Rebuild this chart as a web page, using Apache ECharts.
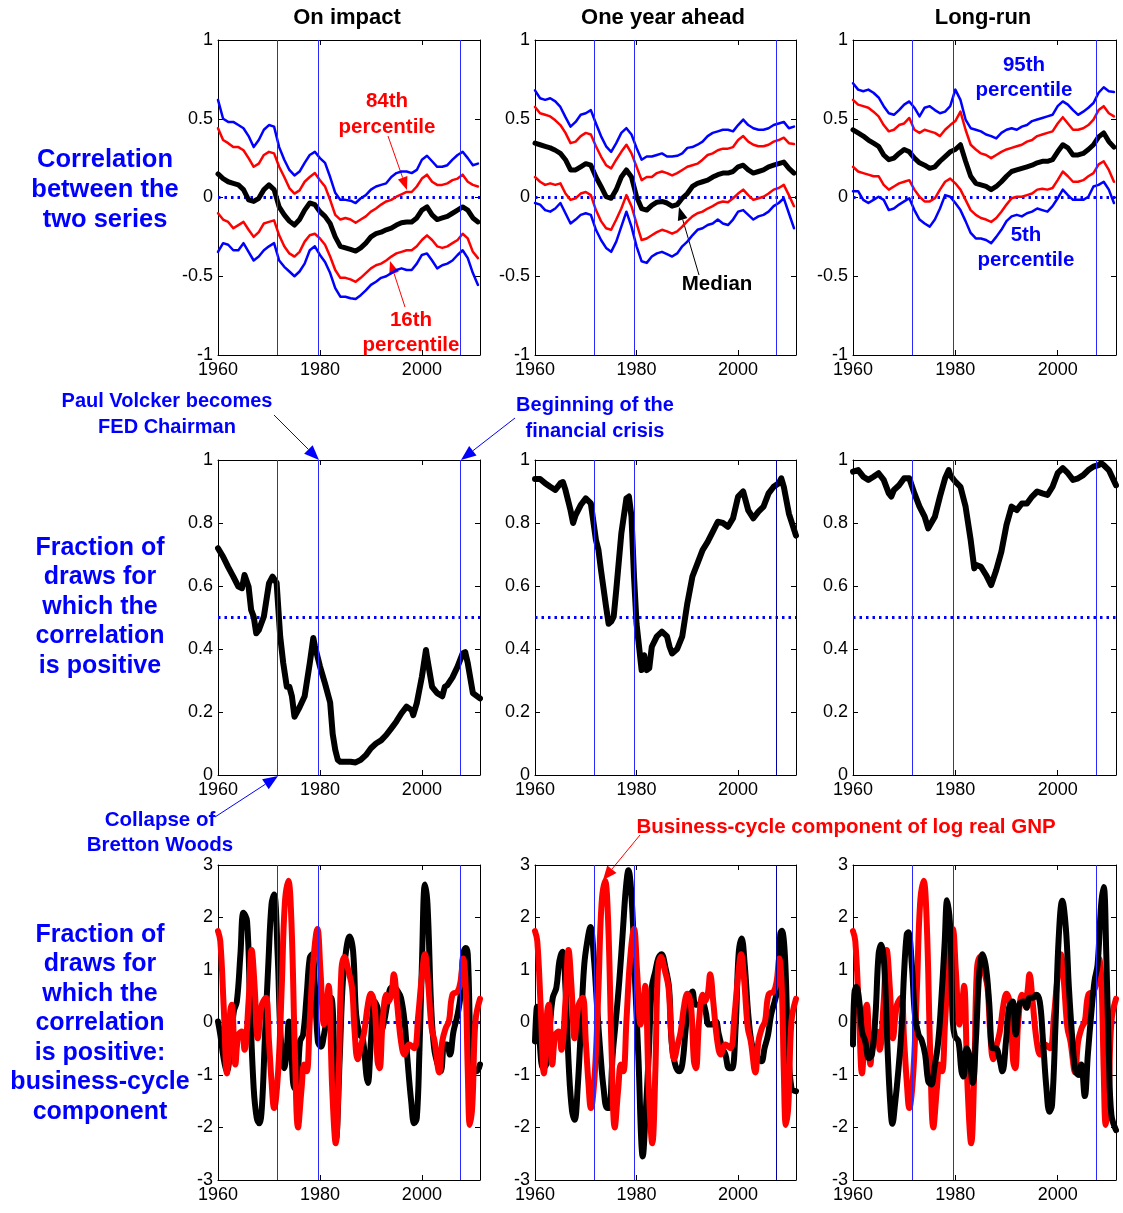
<!DOCTYPE html>
<html>
<head>
<meta charset="utf-8">
<script src="https://cdn.jsdelivr.net/npm/echarts@6/dist/echarts.min.js"></script>
<style>
html, body { margin: 0; padding: 0; background: #fff; }
#main { width: 1123px; height: 1213px; }
</style>
</head>
<body>
<div id="main"></div>
<script>
// years for the rolling correlation panels
var years = [1960,1961,1962,1963,1964,1965,1966,1967,1968,1969,
	1970,1971,1972,1973,1974,1975,1976,1977,1978,1979,
	1980,1981,1982,1983,1984,1985,1986,1987,1988,1989,
	1990,1991,1992,1993,1994,1995,1996,1997,1998,1999,
	2000,2001,2002,2003,2004,2005,2006,2007,2008,2009,
	2010,2011];

// vertical event lines: Bretton Woods, Volcker, financial crisis
var events = [1971.6, 1979.6, 2007.6];

// top row: correlation, on impact
var impP95 = [0.62,0.50,0.48,0.48,0.46,0.44,0.39,0.32,0.365,0.43,
	0.46,0.45,0.32,0.24,0.175,0.14,0.165,0.22,0.27,0.29,
	0.25,0.22,0.13,0.03,-0.015,-0.015,-0.02,-0.035,-0.005,0.015,
	0.05,0.07,0.08,0.09,0.13,0.155,0.165,0.165,0.155,0.175,
	0.24,0.265,0.23,0.195,0.195,0.205,0.24,0.27,0.29,0.25,
	0.205,0.215];
var impP84 = [0.44,0.365,0.345,0.32,0.32,0.30,0.25,0.195,0.215,0.27,
	0.29,0.28,0.195,0.13,0.06,0.025,0.045,0.10,0.13,0.155,
	0.11,0.07,-0.015,-0.11,-0.14,-0.13,-0.14,-0.16,-0.14,-0.12,
	-0.09,-0.07,-0.045,-0.025,-0.015,0.005,0.02,0.035,0.035,0.07,
	0.12,0.145,0.10,0.08,0.08,0.09,0.11,0.12,0.145,0.10,
	0.08,0.07];
var impMed = [0.15,0.12,0.10,0.09,0.08,0.05,-0.015,-0.025,-0.005,0.05,
	0.08,0.05,-0.06,-0.11,-0.15,-0.175,-0.14,-0.08,-0.035,-0.045,
	-0.09,-0.12,-0.165,-0.25,-0.31,-0.32,-0.33,-0.34,-0.32,-0.29,
	-0.25,-0.23,-0.22,-0.205,-0.195,-0.175,-0.16,-0.155,-0.155,-0.13,
	-0.08,-0.06,-0.11,-0.14,-0.13,-0.12,-0.10,-0.08,-0.06,-0.08,
	-0.13,-0.155];
var impP16 = [-0.10,-0.14,-0.155,-0.195,-0.175,-0.155,-0.205,-0.25,-0.22,-0.165,
	-0.155,-0.145,-0.24,-0.31,-0.355,-0.375,-0.345,-0.28,-0.24,-0.23,
	-0.26,-0.30,-0.375,-0.46,-0.51,-0.51,-0.52,-0.535,-0.51,-0.48,
	-0.45,-0.43,-0.42,-0.40,-0.375,-0.355,-0.345,-0.335,-0.335,-0.31,
	-0.27,-0.24,-0.27,-0.31,-0.32,-0.31,-0.29,-0.27,-0.23,-0.26,
	-0.345,-0.385];
var impP5 = [-0.345,-0.29,-0.30,-0.335,-0.335,-0.29,-0.345,-0.40,-0.375,-0.335,
	-0.31,-0.29,-0.40,-0.44,-0.47,-0.50,-0.47,-0.42,-0.335,-0.31,
	-0.365,-0.41,-0.48,-0.575,-0.63,-0.63,-0.64,-0.645,-0.62,-0.59,
	-0.555,-0.535,-0.51,-0.50,-0.48,-0.46,-0.45,-0.46,-0.46,-0.42,
	-0.365,-0.355,-0.40,-0.45,-0.43,-0.42,-0.40,-0.365,-0.335,-0.385,
	-0.48,-0.555];

// top row: correlation, one year ahead
var aheadP95 = [0.68,0.63,0.62,0.63,0.61,0.575,0.51,0.45,0.48,0.525,
	0.535,0.555,0.47,0.39,0.325,0.29,0.345,0.41,0.44,0.40,
	0.315,0.24,0.26,0.26,0.27,0.28,0.26,0.26,0.265,0.28,
	0.315,0.32,0.335,0.355,0.39,0.41,0.42,0.43,0.43,0.42,
	0.46,0.495,0.46,0.44,0.43,0.43,0.44,0.46,0.47,0.48,
	0.44,0.45];
var aheadP84 = [0.575,0.535,0.525,0.515,0.49,0.46,0.41,0.345,0.355,0.39,
	0.41,0.40,0.325,0.26,0.205,0.185,0.24,0.29,0.335,0.28,
	0.195,0.11,0.13,0.13,0.155,0.165,0.155,0.14,0.155,0.175,
	0.195,0.205,0.215,0.24,0.27,0.28,0.30,0.31,0.31,0.32,
	0.365,0.39,0.355,0.335,0.325,0.325,0.335,0.355,0.365,0.38,
	0.345,0.34];
var aheadMed = [0.345,0.335,0.325,0.315,0.30,0.28,0.24,0.175,0.175,0.195,
	0.215,0.205,0.13,0.07,0.005,-0.005,0.05,0.13,0.175,0.13,
	0.005,-0.07,-0.08,-0.05,-0.03,-0.025,-0.035,-0.055,-0.045,-0.005,
	0.025,0.07,0.09,0.10,0.11,0.13,0.145,0.155,0.155,0.165,
	0.195,0.205,0.175,0.155,0.165,0.175,0.195,0.205,0.215,0.225,
	0.185,0.155];
var aheadP16 = [0.13,0.10,0.08,0.09,0.08,0.09,0.025,-0.015,-0.005,0.025,
	0.035,0.015,-0.08,-0.15,-0.195,-0.205,-0.14,-0.07,0.015,-0.055,
	-0.165,-0.27,-0.26,-0.24,-0.22,-0.205,-0.215,-0.23,-0.215,-0.185,
	-0.15,-0.12,-0.10,-0.09,-0.07,-0.055,-0.035,-0.025,-0.03,-0.005,
	0.025,0.05,0.015,-0.015,-0.005,0.005,0.025,0.05,0.06,0.08,
	0.015,-0.055];
var aheadP5 = [-0.035,-0.045,-0.08,-0.09,-0.07,-0.035,-0.10,-0.165,-0.14,-0.11,
	-0.10,-0.11,-0.205,-0.27,-0.32,-0.345,-0.28,-0.185,-0.09,-0.185,
	-0.31,-0.405,-0.415,-0.375,-0.355,-0.345,-0.36,-0.375,-0.355,-0.31,
	-0.28,-0.24,-0.205,-0.195,-0.175,-0.165,-0.14,-0.165,-0.175,-0.14,
	-0.09,-0.08,-0.11,-0.14,-0.12,-0.11,-0.09,-0.055,-0.035,-0.005,
	-0.10,-0.195];

// top row: correlation, long-run
var longP95 = [0.725,0.685,0.675,0.685,0.665,0.635,0.58,0.535,0.525,0.555,
	0.59,0.61,0.57,0.515,0.57,0.58,0.555,0.535,0.545,0.58,
	0.685,0.62,0.495,0.44,0.43,0.42,0.40,0.39,0.375,0.41,
	0.43,0.44,0.43,0.45,0.46,0.485,0.495,0.505,0.515,0.525,
	0.58,0.61,0.59,0.555,0.525,0.545,0.57,0.60,0.665,0.70,
	0.675,0.67];
var longP84 = [0.62,0.59,0.58,0.57,0.545,0.515,0.46,0.42,0.43,0.46,
	0.47,0.505,0.43,0.41,0.43,0.42,0.41,0.39,0.43,0.46,
	0.485,0.545,0.43,0.335,0.305,0.28,0.27,0.25,0.27,0.29,
	0.305,0.315,0.325,0.335,0.355,0.365,0.39,0.40,0.41,0.42,
	0.47,0.51,0.47,0.43,0.43,0.44,0.46,0.495,0.555,0.58,
	0.535,0.515];
var longMed = [0.43,0.41,0.39,0.365,0.345,0.325,0.27,0.24,0.25,0.28,
	0.305,0.29,0.25,0.22,0.205,0.185,0.195,0.23,0.26,0.29,
	0.305,0.335,0.23,0.135,0.09,0.08,0.07,0.05,0.07,0.10,
	0.135,0.165,0.175,0.185,0.195,0.205,0.22,0.23,0.23,0.24,
	0.29,0.335,0.315,0.27,0.27,0.28,0.305,0.335,0.385,0.41,
	0.355,0.32];
var longP16 = [0.195,0.165,0.155,0.145,0.135,0.135,0.08,0.05,0.07,0.09,
	0.10,0.11,0.05,0.005,-0.025,-0.025,-0.005,0.05,0.10,0.12,
	0.09,0.05,-0.015,-0.08,-0.11,-0.13,-0.14,-0.155,-0.13,-0.09,
	-0.045,-0.005,0.005,0.005,0.015,0.025,0.05,0.055,0.05,0.06,
	0.11,0.165,0.135,0.10,0.10,0.11,0.135,0.155,0.21,0.23,
	0.175,0.10];
var longP5 = [0.04,0.04,-0.015,-0.035,-0.015,0.005,-0.015,-0.08,-0.07,-0.045,
	-0.025,-0.005,-0.08,-0.14,-0.165,-0.185,-0.14,-0.07,0.015,0.005,
	-0.035,-0.08,-0.15,-0.225,-0.26,-0.26,-0.27,-0.29,-0.25,-0.205,
	-0.15,-0.12,-0.11,-0.12,-0.10,-0.09,-0.07,-0.08,-0.09,-0.055,
	-0.005,0.05,0.015,-0.015,-0.015,-0.015,0.005,0.07,0.08,0.10,
	0.05,-0.035];

// middle row: fraction of draws with positive correlation
var fracImpYears = [1960,1961,1962,1963,1964,1964.7,1965.2,1966,1966.5,1967,1967.5,1968,1969,1970,1970.7,1971.5,
	1972.2,1972.8,1973.5,1974,1974.5,1975,1976,1977,1978,1978.7,1979,1980,1981,1982,1982.5,1983,1983.5,
	1984,1985,1986,1987,1988,1989,1990,1991,1992,1993,1994,1995,1996,1997,1998,1998.3,1999,2000,2000.8,
	2001,2002,2003,2004,2004.5,2005,2006,2007,2008,2008.5,2009,2010,2011.4];
var fracImp = [0.72,0.693,0.66,0.63,0.598,0.593,0.635,0.598,0.524,0.503,0.45,0.46,0.503,0.608,0.63,0.61,
	0.44,0.355,0.28,0.28,0.25,0.185,0.215,0.25,0.355,0.435,0.41,0.345,0.29,0.23,0.13,0.08,0.048,
	0.042,0.042,0.042,0.04,0.048,0.063,0.085,0.10,0.11,0.127,0.148,0.17,0.196,0.217,0.206,0.19,0.228,0.312,0.397,
	0.375,0.28,0.26,0.25,0.28,0.285,0.31,0.344,0.386,0.39,0.355,0.26,0.243];

var fracAheadYears = [1960,1961,1962,1963,1964,1965,1965.5,1966,1967,1967.5,1968,1969,1970,1971,1972,1972.5,
	1973,1974,1974.5,1975,1975.5,1976,1977,1978,1978.5,1979,1979.5,1980,1981,1981.5,1982,1982.5,1983,
	1984,1985,1986,1986.5,1987,1988,1989,1990,1991,1992,1993,1994,1995,1996,1997,1998,1999,2000,2001,
	2002,2003,2004,2005,2006,2007,2008,2008.5,2009,2010,2011.4];
var fracAhead = [0.94,0.94,0.926,0.915,0.905,0.926,0.93,0.905,0.84,0.80,0.825,0.857,0.878,0.862,0.746,0.714,
	0.65,0.534,0.48,0.487,0.503,0.587,0.767,0.878,0.884,0.82,0.63,0.48,0.333,0.38,0.333,0.339,0.407,
	0.44,0.455,0.44,0.407,0.386,0.40,0.44,0.545,0.63,0.672,0.714,0.74,0.772,0.804,0.80,0.788,0.815,0.884,0.90,
	0.84,0.815,0.836,0.852,0.894,0.915,0.926,0.942,0.915,0.83,0.76];

var fracLongYears = [1960,1961,1962,1963,1964,1965,1966,1967,1967.5,1968,1969,1970,1971,1972,1973,1974,
	1974.7,1975,1976,1977,1978,1978.7,1979,1980,1981,1982,1983,1983.7,1984,1985,1986,1987,1987.2,
	1988,1989,1990,1991,1992,1993,1994,1995,1996,1997,1998,1999,2000,2001,2002,2003,2004,2005,2006,
	2007,2008,2008.5,2009,2010,2011.4];
var fracLong = [0.963,0.968,0.947,0.937,0.947,0.958,0.937,0.894,0.884,0.905,0.92,0.942,0.942,0.894,0.852,0.82,
	0.783,0.788,0.82,0.884,0.942,0.968,0.952,0.931,0.915,0.852,0.746,0.656,0.667,0.661,0.635,0.603,0.598,
	0.651,0.709,0.794,0.852,0.841,0.862,0.862,0.884,0.90,0.894,0.889,0.915,0.958,0.974,0.958,0.937,0.942,0.952,0.968,
	0.979,0.984,0.99,0.984,0.968,0.92];

// bottom row: business-cycle component of log real GNP (red, same in every panel)
var gnpYears = [1960,1960.45,1961.1,1961.75,1962.4,1962.7,1963.4,1964.0,1964.7,1965.2,1966.0,1966.6,1967.2,1967.8,
	1968.6,1969.4,1970.0,1970.5,1971.0,1971.8,1972.5,1973.1,1973.8,1974.4,1975.1,1975.7,1976.4,1976.9,
	1977.4,1978.0,1978.7,1979.5,1980.1,1980.8,1981.3,1981.7,1982.4,1983.1,1983.7,1984.2,1984.8,1985.6,
	1986.3,1986.8,1987.4,1988.1,1988.7,1989.4,1990.0,1990.7,1991.3,1991.7,1992.3,1993.0,1993.4,1994.0,
	1994.5,1995.1,1995.9,1996.6,1997.5,1998.5,1999.3,1999.9,2000.6,2001.2,2001.9,2002.5,2003.4,2004.0,
	2004.7,2005.3,2006.0,2007.0,2007.6,2008.1,2008.6,2009.0,2009.4,2009.9,2010.5,2011.4];
var gnpVals = [1.74,1.55,0.34,-0.97,0.21,0.34,-0.8,-0.23,-0.17,-0.52,0.40,1.38,0.66,-0.3,
	0.34,0.47,-0.36,-1.12,-1.63,-0.93,0.66,2.25,2.7,1.93,-0.61,-2.0,-1.25,-0.80,
	-0.93,0.02,1.17,1.78,0.98,-0.04,0.34,0.7,-1.25,-2.3,-0.93,0.98,1.25,0.98,
	0.66,-0.17,-0.7,-0.42,-0.17,0.34,0.55,0.34,-0.74,-0.87,0.02,0.53,0.40,0.53,
	0.92,0.40,-0.36,-0.61,-0.42,-0.49,0.15,0.79,1.3,0.79,-0.10,-0.36,-0.95,-0.36,
	-0.10,0.02,0.53,0.59,0.79,1.22,0.66,-0.93,-1.95,-1.57,0.02,0.45];

// bottom row: business-cycle component of the correlation (black), on impact
var bcImpYears = [1960,1960.45,1961.1,1961.75,1962.4,1963.1,1963.7,1964.4,1965.0,1965.7,1966.3,1967.0,1967.6,
	1968.1,1968.6,1969.2,1969.9,1970.5,1971.0,1971.7,1972.3,1973.0,1973.5,1973.9,1974.4,1975.0,1975.4,
	1976.1,1976.7,1977.4,1978.0,1978.5,1979.0,1979.6,1980.2,1980.8,1981.5,1982.2,1982.8,1983.2,1983.9,
	1984.5,1985.2,1985.8,1986.5,1987.1,1987.8,1988.4,1989.1,1989.4,1990.0,1990.7,1991.3,1992.0,1992.6,
	1993.3,1994.0,1994.6,1995.3,1995.9,1996.6,1997.2,1997.9,1998.5,1999.0,1999.5,2000.0,2000.6,2001.1,
	2001.8,2002.4,2003.1,2003.7,2004.4,2004.9,2005.5,2006.2,2007.0,2007.6,2008.1,2008.6,2009.0,2009.6,
	2010.1,2010.7,2011.4];
var bcImp = [0.02,-0.23,-0.68,-0.93,-0.49,0.21,0.40,1.30,2.09,1.93,0.34,-1.25,-1.82,
	-1.92,-1.63,-0.30,1.17,2.25,2.44,1.30,-0.30,-0.87,-0.49,0.02,-0.61,-1.25,-1.25,
	-0.36,-0.23,0.53,1.23,1.30,0.72,-0.36,-0.46,-0.23,0.15,0.47,-0.61,-2.2,-0.61,
	0.79,1.42,1.64,1.36,0.15,-0.23,-0.30,-1.0,-1.15,-0.36,0.40,0.28,-0.17,0.02,
	0.40,0.66,0.66,0.59,0.47,0.02,-0.74,-1.50,-1.92,-1.82,-0.61,1.10,2.63,2.25,
	0.34,-0.49,-0.80,-0.93,-0.42,-0.42,-0.61,-0.17,0.15,0.53,1.30,1.42,1.30,-0.61,
	-0.93,-0.93,-0.80];

// bottom row: one year ahead
var bcAheadYears = [1960,1960.4,1960.9,1961.6,1962.2,1962.9,1963.5,1964.2,1964.8,1965.4,1966.0,1966.7,1967.3,
	1967.8,1968.4,1969.1,1969.7,1970.4,1970.9,1971.6,1972.2,1972.9,1973.5,1974.2,1974.6,1975.3,1975.9,
	1976.6,1977.3,1977.9,1978.4,1979.1,1979.7,1980.4,1980.9,1981.2,1981.7,1982.4,1983.0,1983.7,1984.3,
	1984.9,1985.7,1986.4,1986.9,1987.6,1988.4,1989.0,1989.7,1990.3,1991.0,1991.6,1992.3,1992.9,1993.6,
	1994.2,1994.9,1995.6,1996.2,1996.9,1997.5,1998.2,1998.8,1999.5,2000.1,2000.7,2001.3,2002.0,2002.6,
	2003.3,2003.9,2004.6,2005.2,2005.9,2006.5,2007.2,2007.8,2008.3,2008.6,2009.2,2009.8,2010.5,2011.4];
var bcAhead = [-0.36,0.30,-0.36,-0.87,-0.80,-0.10,0.47,0.66,1.17,1.35,0.66,-0.93,-1.69,
	-1.85,-1.25,0.02,1.10,1.61,1.82,1.23,0.34,-0.61,-1.25,-1.63,-1.63,-0.61,0.02,
	0.79,1.74,2.56,2.9,2.25,0.79,-0.74,-2.2,-2.55,-1.89,-0.61,0.66,0.98,1.23,
	1.30,1.04,0.66,-0.36,-0.80,-0.93,-0.80,-0.10,0.40,0.59,0.34,0.34,0.40,0.21,
	-0.04,-0.04,0.02,-0.23,-0.49,-0.61,-0.87,-0.87,-0.10,1.30,1.60,1.10,0.15,-0.36,
	-0.61,-0.68,-0.74,-0.49,-0.23,0.15,0.40,0.66,1.68,1.75,1.30,-0.30,-1.25,-1.31];

// bottom row: long-run
var bcLongYears = [1960,1960.25,1960.65,1961.3,1961.75,1962.4,1963.1,1963.7,1964.4,1965.0,1965.5,1966.1,1966.8,
	1967.3,1967.7,1968.2,1968.9,1969.5,1970.0,1970.5,1970.8,1971.5,1972.1,1972.8,1973.4,1974.1,1974.7,
	1975.3,1975.9,1976.6,1977.2,1977.9,1978.4,1979.0,1979.5,1979.9,1980.6,1981.2,1981.6,1982.2,1982.7,
	1983.4,1984.0,1984.7,1985.3,1986.0,1986.6,1987.3,1987.9,1988.6,1989.2,1989.9,1990.5,1991.2,1991.8,
	1992.5,1993.3,1993.9,1994.5,1995.2,1995.8,1996.5,1997.1,1997.8,1998.4,1998.9,1999.6,2000.2,2000.9,
	2001.6,2002.2,2002.9,2003.5,2004.2,2004.6,2005.3,2005.9,2006.6,2007.2,2007.8,2008.5,2009.0,2009.5,
	2010.0,2010.5,2011.4];
var bcLong = [-0.42,0.53,0.68,0.34,-0.17,-0.36,-0.68,-0.61,0.15,1.30,1.48,1.10,-0.61,
	-1.57,-1.93,-1.57,-0.87,-0.10,0.98,1.68,1.72,1.10,0.15,-0.23,-0.33,-0.61,-1.12,
	-1.18,-0.87,-0.42,0.34,1.49,2.33,1.80,0.02,-0.26,-0.36,-0.93,-1.03,-0.49,-0.61,
	-1.15,-0.36,0.98,1.30,1.04,0.40,-0.49,-0.49,-0.68,-0.93,-0.36,0.28,0.40,-0.23,
	0.34,0.40,0.28,0.47,0.47,0.53,0.40,-0.30,-1.25,-1.70,-1.57,0.02,1.61,2.32,
	1.80,0.66,-0.36,-0.93,-1.00,-0.80,-1.40,-0.61,0.21,0.79,1.10,2.25,2.58,1.30,
	-0.61,-1.76,-2.05];

function zip(xs, ys) {
	var out = [];
	for (var i = 0; i < xs.length; i++) out.push([xs[i], ys[i]]);
	return out;
}

var FONT = '"Liberation Sans", Arial, Helvetica, sans-serif';
var BLUE = '#0000ff', RED = '#ff0000', BLACK = '#000000';
var XMIN = 1960, XMAX = 2011.4;

var colLeft = [218, 535, 853];
var colWidth = [262, 261, 263];
var rowTop = [40, 460, 865];
var rowHeight = 315;
var rowY = [
	{min: -1, max: 1, interval: 0.5, ref: 0},
	{min: 0, max: 1, interval: 0.2, ref: 0.5},
	{min: -3, max: 3, interval: 1, ref: 0}
];

var grids = [], xAxes = [], yAxes = [], series = [];

for (var r = 0; r < 3; r++) {
	for (var c = 0; c < 3; c++) {
		var idx = r * 3 + c;
		grids.push({left: colLeft[c], top: rowTop[r], width: colWidth[c], height: rowHeight});
		['bottom', 'top'].forEach(function(pos) {
			xAxes.push({
				gridIndex: idx, type: 'value', position: pos,
				min: XMIN, max: XMAX, interval: 20,
				axisLine: {show: true, onZero: false, lineStyle: {color: BLACK, width: 1}},
				axisTick: {show: true, inside: true, length: 5, lineStyle: {color: BLACK}},
				axisLabel: {show: pos == 'bottom', fontSize: 18, color: BLACK, fontFamily: FONT, margin: 6,
					showMaxLabel: false, formatter: function(v) { return String(v); }},
				splitLine: {show: false}
			});
		});
		['left', 'right'].forEach(function(pos) {
			yAxes.push({
				gridIndex: idx, type: 'value', position: pos,
				min: rowY[r].min, max: rowY[r].max, interval: rowY[r].interval,
				axisLine: {show: true, onZero: false, lineStyle: {color: BLACK, width: 1}},
				axisTick: {show: true, inside: true, length: 5, lineStyle: {color: BLACK}},
				axisLabel: {show: pos == 'left', fontSize: 18, color: BLACK, fontFamily: FONT, margin: 5,
					formatter: function(v) { return String(+v.toFixed(2)); }},
				splitLine: {show: false}
			});
		});
		// dotted reference line + vertical event lines
		var evColor = function(e) { return (c == 1 && r > 0 && e > 2000) ? '#0000a0' : '#2828ff'; };
		series.push({
			type: 'line', xAxisIndex: idx * 2, yAxisIndex: idx * 2,
			data: [[XMIN, rowY[r].ref], [XMAX, rowY[r].ref]],
			symbol: 'none', silent: true, z: 1,
			lineStyle: {color: BLUE, width: 3, type: [2.5, 4]},
			markLine: {
				silent: true, symbol: ['none', 'none'], label: {show: false},
				data: events.map(function(e) {
					return {xAxis: e, lineStyle: {color: evColor(e), width: 1, type: 'solid'}};
				})
			}
		});
	}
}

function addLine(idx, xs, ys, color, width, smooth) {
	series.push({
		type: 'line', xAxisIndex: idx * 2, yAxisIndex: idx * 2,
		data: zip(xs, ys), symbol: 'none', silent: true, z: 2,
		smooth: smooth || false,
		lineStyle: {color: color, width: width, join: 'round', cap: 'round'}
	});
}

// top row
var topSets = [
	[impP95, impP84, impMed, impP16, impP5],
	[aheadP95, aheadP84, aheadMed, aheadP16, aheadP5],
	[longP95, longP84, longMed, longP16, longP5]
];
topSets.forEach(function(s, c) {
	addLine(c, years, s[0], BLUE, 2.5);
	addLine(c, years, s[4], BLUE, 2.5);
	addLine(c, years, s[1], RED, 2.5);
	addLine(c, years, s[3], RED, 2.5);
	addLine(c, years, s[2], BLACK, 5);
});

// middle row
addLine(3, fracImpYears, fracImp, BLACK, 6);
addLine(4, fracAheadYears, fracAhead, BLACK, 6);
addLine(5, fracLongYears, fracLong, BLACK, 6);

// bottom row
addLine(6, bcImpYears, bcImp, BLACK, 6, 0.4);
addLine(6, gnpYears, gnpVals, RED, 6, 0.4);
addLine(7, bcAheadYears, bcAhead, BLACK, 6, 0.4);
addLine(7, gnpYears, gnpVals, RED, 6, 0.4);
addLine(8, gnpYears, gnpVals, RED, 6, 0.4);
addLine(8, bcLongYears, bcLong, BLACK, 6, 0.4);

// text and arrows
var graphics = [];
function txt(s, x, y, color, size) {
	graphics.push({
		type: 'text', x: x, y: y, silent: true,
		style: {text: s, fill: color, font: 'bold ' + size + 'px ' + FONT, textAlign: 'center', textVerticalAlign: 'middle'}
	});
}
function arrow(x1, y1, x2, y2, color, len, half) {
	var a = Math.atan2(y2 - y1, x2 - x1);
	var bx = x2 - len * Math.cos(a), by = y2 - len * Math.sin(a);
	var px = -Math.sin(a) * half, py = Math.cos(a) * half;
	graphics.push({type: 'line', silent: true, shape: {x1: x1, y1: y1, x2: bx, y2: by}, style: {stroke: color, lineWidth: 1}});
	graphics.push({type: 'polygon', silent: true, shape: {points: [[x2, y2], [bx + px, by + py], [bx - px, by - py]]}, style: {fill: color}});
}

txt('On impact', 347, 18, BLACK, 22);
txt('One year ahead', 663, 18, BLACK, 22);
txt('Long-run', 983, 18, BLACK, 22);

['Correlation', 'between the', 'two series'].forEach(function(s, i) { txt(s, 105, 160 + i * 30, BLUE, 25.5); });
['Fraction of', 'draws for', 'which the', 'correlation', 'is positive'].forEach(function(s, i) { txt(s, 100, 548 + i * 29.5, BLUE, 25); });
['Fraction of', 'draws for', 'which the', 'correlation', 'is positive:', 'business-cycle', 'component'].forEach(function(s, i) { txt(s, 100, 935 + i * 29.5, BLUE, 25); });

txt('84th', 387, 101, RED, 20.5);
txt('percentile', 387, 127, RED, 20.5);
arrow(388, 136, 407, 190, RED, 13, 5);
txt('16th', 411, 320, RED, 20.5);
txt('percentile', 411, 345, RED, 20.5);
arrow(405, 307, 390, 261, RED, 13, 5);
txt('Median', 717, 284, BLACK, 20.5);
arrow(699, 275, 679, 207, BLACK, 13, 5);
txt('95th', 1024, 65, BLUE, 20.5);
txt('percentile', 1024, 90, BLUE, 20.5);
txt('5th', 1026, 235, BLUE, 20.5);
txt('percentile', 1026, 260, BLUE, 20.5);

txt('Paul Volcker becomes', 167, 401, BLUE, 20);
txt('FED Chairman', 167, 427, BLUE, 20);
arrow(274, 415, 319, 460, BLUE, 15, 6);
txt('Beginning of the', 595, 405, BLUE, 20);
txt('financial crisis', 595, 431, BLUE, 20);
arrow(515, 418, 461, 460, BLUE, 15, 6);
txt('Collapse of', 160, 820, BLUE, 20.5);
txt('Bretton Woods', 160, 845, BLUE, 20.5);
arrow(215, 817, 278, 776, BLUE, 15, 6);
txt('Business-cycle component of log real GNP', 846, 827, RED, 20.5);
arrow(640, 835, 603, 880, RED, 14, 6);

var chart = echarts.init(document.getElementById('main'));
chart.setOption({
	backgroundColor: '#ffffff',
	animation: false,
	grid: grids,
	xAxis: xAxes,
	yAxis: yAxes,
	series: series,
	graphic: graphics
});
</script>
</body>
</html>
